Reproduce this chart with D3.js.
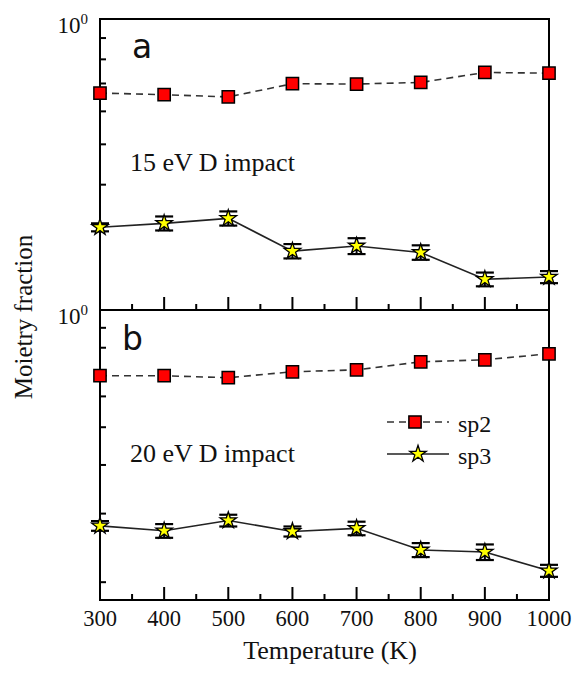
<!DOCTYPE html>
<html><head><meta charset="utf-8">
<script src="https://cdn.jsdelivr.net/npm/d3@7"></script>
<style>body{margin:0;background:#fff}svg{display:block}</style>
</head><body>
<script>
const temps = [300,400,500,600,700,800,900,1000];
const xTicks = [300,400,500,600,700,800,900,1000];
const xMinor = [350,450,550,650,750,850,950];
const sp2A = [0.664,0.658,0.650,0.699,0.698,0.704,0.744,0.741];
const sp3A = [0.316,0.323,0.332,0.277,0.285,0.275,0.237,0.240];
const sp3AErr = [0.007,0.0125,0.013,0.011,0.0125,0.011,0.009,0.008];
const sp2B = [0.678,0.678,0.670,0.694,0.702,0.736,0.745,0.772];
const sp3B = [0.279,0.271,0.288,0.270,0.275,0.242,0.239,0.214];
const sp3BErr = [0.008,0.011,0.010,0.008,0.011,0.010,0.011,0.0076];
const yTicksA = [0.9,0.8,0.7,0.6,0.5,0.4];
const yTicksB = [0.9,0.8,0.7,0.6,0.5,0.4,0.3,0.2];
const panelLabels = ["a","b"];
const impactLabels = ["15 eV D impact","20 eV D impact"];
const seriesNames = ["sp2","sp3"];

const W=572,H=675;
const svg=d3.select("body").append("svg").attr("width",W).attr("height",H);
const serif="'Liberation Serif','Times New Roman',serif";
const x=d3.scaleLinear().domain([300,1000]).range([100,549]);

const panels=[
 {top:19,bottom:310,dom:[0.2,1],sp2:sp2A,sp3:sp3A,err:sp3AErr,ticks:yTicksA,label:panelLabels[0],imp:impactLabels[0],lx:132,ly:58,ix:130,iy:171},
 {top:310,bottom:600,dom:[0.18,1],sp2:sp2B,sp3:sp3B,err:sp3BErr,ticks:yTicksB,label:panelLabels[1],imp:impactLabels[1],lx:122,ly:350,ix:130,iy:462}
];

const star=d3.symbol().type(d3.symbolStar).size(85);
const sq=d3.symbol().type(d3.symbolSquare).size(150);

panels.forEach((p,i)=>{
  const y=d3.scaleLog().domain(p.dom).range([p.bottom,p.top]);
  const g=svg.append("g");
  g.selectAll(".yt").data(p.ticks).enter().append("line")
   .attr("x1",x(300)).attr("x2",x(300)+6).attr("y1",d=>y(d)).attr("y2",d=>y(d))
   .attr("stroke","#000").attr("stroke-width",2);
  g.selectAll(".xt").data(xTicks).enter().append("line")
   .attr("x1",d=>x(d)).attr("x2",d=>x(d)).attr("y1",p.bottom).attr("y2",p.bottom-13)
   .attr("stroke","#000").attr("stroke-width",2);
  g.selectAll(".xm").data(xMinor).enter().append("line")
   .attr("x1",d=>x(d)).attr("x2",d=>x(d)).attr("y1",p.bottom).attr("y2",p.bottom-6)
   .attr("stroke","#000").attr("stroke-width",2);
  g.append("rect").attr("x",x(300)).attr("y",p.top).attr("width",x(1000)-x(300)).attr("height",p.bottom-p.top)
   .attr("fill","none").attr("stroke","#000").attr("stroke-width",2);
  const t=g.append("text").attr("x",x(300)-12).attr("y",p.top+14).attr("text-anchor","end")
   .attr("font-family",serif).attr("font-size",23).attr("fill","#111");
  t.append("tspan").text("10");
  t.append("tspan").attr("dy",-9).attr("font-size",15).text("0");
  const line=d3.line().x((d,j)=>x(temps[j])).y(d=>y(d));
  g.append("path").attr("d",line(p.sp2)).attr("fill","none").attr("stroke","#333")
   .attr("stroke-width",1.6).attr("stroke-dasharray","7,5");
  g.append("path").attr("d",line(p.sp3)).attr("fill","none").attr("stroke","#222")
   .attr("stroke-width",1.6);
  p.sp3.forEach((v,j)=>{
    const e=p.err[j], cx=x(temps[j]);
    g.append("line").attr("x1",cx).attr("x2",cx).attr("y1",y(v+e)).attr("y2",y(v-e)).attr("stroke","#000").attr("stroke-width",2);
    [v+e,v-e].forEach(w=>g.append("line").attr("x1",cx-9).attr("x2",cx+9).attr("y1",y(w)).attr("y2",y(w)).attr("stroke","#000").attr("stroke-width",2.2));
  });
  g.selectAll(".sq").data(p.sp2).enter().append("path").attr("d",sq)
   .attr("transform",(d,j)=>`translate(${x(temps[j])},${y(d)})`)
   .attr("fill","#ff0000").attr("stroke","#000").attr("stroke-width",1.5);
  g.selectAll(".st").data(p.sp3).enter().append("path").attr("d",star)
   .attr("transform",(d,j)=>`translate(${x(temps[j])},${y(d)})`)
   .attr("fill","#ffff00").attr("stroke","#000").attr("stroke-width",1.3);
  g.append("text").attr("x",p.lx).attr("y",p.ly).attr("font-family","'DejaVu Sans',Verdana,sans-serif")
   .attr("font-size",33).attr("fill","#111").text(p.label);
  g.append("text").attr("x",p.ix).attr("y",p.iy).attr("font-family",serif)
   .attr("font-size",26).attr("fill","#111").text(p.imp);
});

svg.selectAll(".xl").data(xTicks).enter().append("text")
 .attr("x",d=>x(d)).attr("y",626).attr("text-anchor","middle")
 .attr("font-family",serif).attr("font-size",22.5).attr("fill","#111").text(d=>d);
svg.append("text").attr("x",330).attr("y",659).attr("text-anchor","middle")
 .attr("font-family",serif).attr("font-size",26).attr("fill","#111").text("Temperature (K)");
svg.append("text").attr("transform","translate(32,317) rotate(-90)").attr("text-anchor","middle")
 .attr("font-family",serif).attr("font-size",25).attr("fill","#111").text("Moietry fraction");

const lg=svg.append("g");
lg.append("line").attr("x1",387).attr("x2",449).attr("y1",422).attr("y2",422).attr("stroke","#333").attr("stroke-width",1.6).attr("stroke-dasharray","7,5");
lg.append("path").attr("d",sq).attr("transform","translate(415,422)").attr("fill","#ff0000").attr("stroke","#000").attr("stroke-width",1.5);
lg.append("line").attr("x1",387).attr("x2",449).attr("y1",454).attr("y2",454).attr("stroke","#222").attr("stroke-width",1.6);
lg.append("path").attr("d",star).attr("transform","translate(418,454)").attr("fill","#ffff00").attr("stroke","#000").attr("stroke-width",1.3);
lg.selectAll(".lt").data(seriesNames).enter().append("text")
 .attr("x",458).attr("y",(d,i)=>432+i*32).attr("font-family",serif).attr("font-size",24).attr("fill","#111").text(d=>d);
</script>
</body></html>
